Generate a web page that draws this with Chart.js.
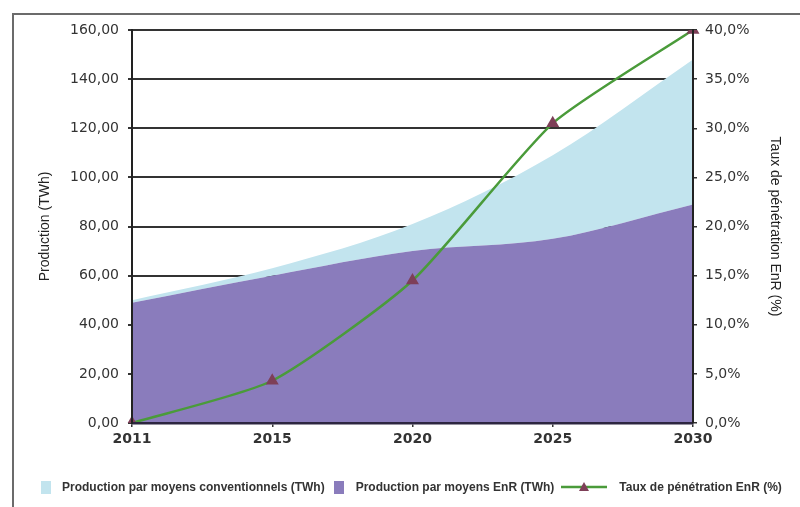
<!DOCTYPE html>
<html>
<head>
<meta charset="utf-8">
<script src="https://cdn.jsdelivr.net/npm/chart.js"></script>
<style>
  body { margin: 0; width: 800px; height: 507px; overflow: hidden; background: #fff; position: relative; }
  #cadre { position: absolute; left: 12px; top: 13px; width: 900px; height: 600px; border: 2px solid #6b6b6b; }
  #chart { position: absolute; left: 0; top: 0; }
  #legende { position: absolute; left: 41px; top: 480px; display: flex; align-items: center; white-space: nowrap;
    font-family: "Liberation Sans", sans-serif; font-weight: bold; font-size: 12px; color: #333; }
  .boite { width: 10px; height: 13px; display: inline-block; }
</style>
</head>
<body>
<div id="cadre"></div>
<canvas id="chart" width="800" height="507"></canvas>
<div id="legende">
  <span class="boite" style="background:#c2e4ee;margin-right:11px"></span>
  <span style="margin-right:9px">Production par moyens conventionnels (TWh)</span>
  <span class="boite" style="background:#8a7cbc;margin-right:12px"></span>
  <span style="margin-right:7px">Production par moyens EnR (TWh)</span>
  <svg width="46" height="14" style="margin-right:12px">
    <line x1="0" y1="7" x2="46" y2="7" stroke="#4a9b3a" stroke-width="2.5"/>
    <polygon points="23,2 28,11 18,11" fill="#7e3f58"/>
  </svg>
  <span>Taux de pénétration EnR (%)</span>
</div>
<script>
// donnees
const annees = ['2011', '2015', '2020', '2025', '2030'];
const prodConv = [1, 3, 11, 34, 59];        // TWh, empile au-dessus de EnR
const prodEnR = [49, 60, 70, 75, 89];       // TWh
const tauxEnR = [0, 4.3, 14.5, 30.5, 40];   // %

const fmtTWh = v => v.toFixed(2).replace('.', ',');
const fmtPct = v => v.toFixed(1).replace('.', ',') + '%';

const ctx = document.getElementById('chart');

new Chart(ctx, {
    type: 'line',
    data: {
        labels: annees,
        datasets: [{
            label: 'Production par moyens conventionnels (TWh)',
            data: prodConv,
            yAxisID: 'y',
            order: 2,
            fill: 1,
            backgroundColor: '#c2e4ee',
            borderWidth: 0,
            pointRadius: 0,
            cubicInterpolationMode: 'monotone'
        }, {
            label: 'Production par moyens EnR (TWh)',
            data: prodEnR,
            yAxisID: 'y',
            order: 1,
            fill: 'origin',
            backgroundColor: '#8a7cbc',
            borderWidth: 0,
            pointRadius: 0,
            cubicInterpolationMode: 'monotone'
        }, {
            label: 'Taux de pénétration EnR (%)',
            data: tauxEnR,
            yAxisID: 'y2',
            order: 0,
            fill: false,
            borderColor: '#4a9b3a',
            borderWidth: 2.5,
            tension: 0.2,
            pointStyle: 'triangle',
            pointRadius: 5,
            pointBackgroundColor: '#7e3f58',
            pointBorderColor: '#7e3f58'
        }]
    },
    options: {
        responsive: false,
        animation: false,
        layout: { padding: { top: 30, left: 0, right: 0, bottom: 0 } },
        plugins: {
            legend: { display: false },
            tooltip: { enabled: false }
        },
        scales: {
            x: {
                offset: false,
                afterFit: s => { s.height = 84; },
                grid: { display: true, drawOnChartArea: false, tickLength: 4, color: '#333', lineWidth: 1.5 },
                border: { display: true, color: '#2d2640', width: 2.5, z: 1 },
                ticks: { color: '#333', padding: 4, maxRotation: 0,
                    font: { family: 'DejaVu Sans', size: 14, weight: 'bold' } }
            },
            y: {
                stacked: true,
                position: 'left',
                min: 0, max: 160,
                afterFit: s => { s.width = 132; },
                ticks: { stepSize: 20, color: '#333', padding: 9, callback: v => fmtTWh(v),
                    font: { family: 'DejaVu Sans', size: 14 } },
                grid: { color: '#333', lineWidth: 2, tickLength: 4 },
                border: { display: true, color: '#222', width: 2, z: 1 },
                title: { display: true, text: 'Production (TWh)', color: '#222',
                    font: { family: 'Liberation Sans', size: 14 }, padding: { top: 37, bottom: 0 } }
            },
            y2: {
                position: 'right',
                min: 0, max: 40,
                afterFit: s => { s.width = 107; },
                ticks: { stepSize: 5, color: '#333', padding: 8, callback: v => fmtPct(v),
                    font: { family: 'DejaVu Sans', size: 14 } },
                grid: { drawOnChartArea: false, color: '#333', lineWidth: 1.5, tickLength: 4 },
                border: { display: true, color: '#222', width: 2, z: 1 },
                title: { display: true, text: 'Taux de pénétration EnR (%)', color: '#222',
                    font: { family: 'Liberation Sans', size: 14 }, padding: { top: 17, bottom: 0 } }
            }
        }
    }
});
</script>
</body>
</html>
